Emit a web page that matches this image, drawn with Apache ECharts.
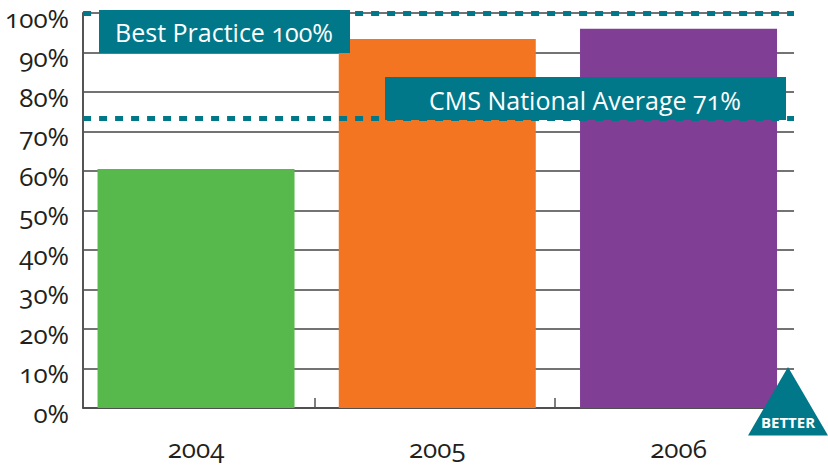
<!DOCTYPE html>
<html><head><meta charset="utf-8">
<style>
html,body{margin:0;padding:0;background:#fff}
#c{width:828px;height:466px}
text{font-feature-settings:"onum" 1 !important}
</style>
<script src="https://cdn.jsdelivr.net/npm/echarts@6/dist/echarts.min.js"></script>
</head><body><div id="c"></div>
<script>
const categories=['2004','2005','2006'];
const values=[60.5,93.4,96];
const barColors=['#57b84b','#f47521','#803f95'];
const bestPractice=100;
const cmsAverage=73.3;
const bestLabel='Best Practice 100%';
const cmsLabel='CMS National Average 71%';
const teal='#00788a', ink='#231f20', fontName='"Open Sans", sans-serif';
const chart=echarts.init(document.getElementById('c'),null,{renderer:'svg'});
chart.setOption({
  animation:false,
  backgroundColor:'#fff',
  grid:[
    {left:82,top:13,width:712,height:395},
    {left:75.4,top:13,width:723.75,height:395},
    {left:75,top:13,width:720,height:395}
  ],
  xAxis:[
    {gridIndex:0,type:'category',data:categories,
     axisLine:{show:true,onZero:false,lineStyle:{color:'#444',width:1.5}},
     axisTick:{show:false},axisLabel:{show:false},splitLine:{show:false}},
    {gridIndex:1,type:'category',data:categories,
     axisLine:{show:false},axisTick:{show:false},
     axisLabel:{fontFamily:fontName,fontSize:26,color:ink,margin:27}},
    {gridIndex:2,type:'category',data:categories,
     axisLine:{show:false},axisLabel:{show:false},
     axisTick:{show:true,inside:true,length:10,interval:(i)=>i>0,lineStyle:{color:'#555',width:1.5}}}
  ],
  yAxis:[
    {gridIndex:0,type:'value',min:0,max:100,interval:10,
     axisLine:{show:true,lineStyle:{color:'#555',width:2}},
     axisTick:{show:false},
     axisLabel:{fontFamily:fontName,fontSize:26,color:ink,margin:14,formatter:'{value}%',verticalAlign:'top',lineHeight:9},
     splitLine:{show:true,lineStyle:{color:'#444',width:1.5}}},
    {gridIndex:1,type:'value',min:0,max:100,show:false},
    {gridIndex:2,type:'value',min:0,max:100,show:false}
  ],
  series:[
    {type:'bar',xAxisIndex:1,yAxisIndex:1,barWidth:197,z:3,
     data:values.map((v,i)=>({value:v,itemStyle:{color:barColors[i]}}))},
    {type:'line',xAxisIndex:0,yAxisIndex:0,data:[],z:5,silent:true,
     markLine:{symbol:'none',silent:true,animation:false,label:{show:false},
       lineStyle:{color:teal,width:5,type:[8,8],opacity:1},
       data:[{yAxis:bestPractice},{yAxis:cmsAverage}]}}
  ],
  graphic:[
    {type:'rect',z:20,shape:{x:99,y:10,width:251,height:43},style:{fill:teal}},
    {type:'text',z:21,x:224,y:32,style:{text:bestLabel,fill:'#fff',font:'25px '+fontName,align:'center',verticalAlign:'middle'}},
    {type:'rect',z:20,shape:{x:385,y:77,width:401,height:43},style:{fill:teal}},
    {type:'text',z:21,x:585,y:100,style:{text:cmsLabel,fill:'#fff',font:'25px '+fontName,align:'center',verticalAlign:'middle'}},
    {type:'polygon',z:20,shape:{points:[[788,367],[748,435.5],[828,435.5]]},style:{fill:teal}},
    {type:'text',z:21,x:788,y:422,style:{text:'BETTER',fill:'#fff',font:'bold 15px "Open Sans", sans-serif',align:'center',verticalAlign:'middle'}}
  ]
});
</script></body></html>
